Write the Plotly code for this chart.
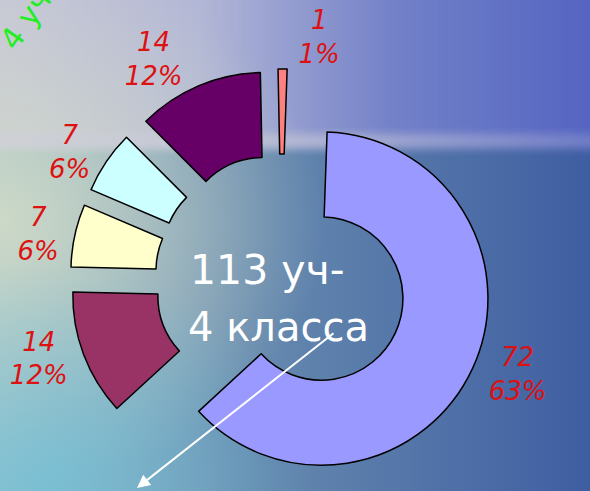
import base64
import plotly.graph_objects as go

# slices, clockwise from 12 o'clock
groups = ["группа 1", "группа 2", "группа 3", "группа 4", "группа 5", "группа 6"]
pupils = [72, 14, 7, 7, 14, 1]
slice_colors = ["#9999FF", "#993366", "#FFFFCC", "#CCFFFF", "#660066", "#FF8080"]

center_line1 = "113 уч-"
center_line2 = "4 класса"
corner_text = "4 уч"

W, H = 590, 491

### background (sky + sea) as an svg picture ###
bg_svg = f"""<svg xmlns='http://www.w3.org/2000/svg' width='{W}' height='{H}' viewBox='0 0 {W} {H}' preserveAspectRatio='none'>
<defs>
<filter id='soft' x='-0.1' y='-0.5' width='1.2' height='2'><feGaussianBlur stdDeviation='4'/></filter>
<linearGradient id='sky' x1='0' y1='0' x2='1' y2='0'>
<stop offset='0' stop-color='#c9c8d8'/><stop offset='0.35' stop-color='#b3b7d6'/>
<stop offset='0.65' stop-color='#7381c8'/><stop offset='1' stop-color='#5060c0'/>
</linearGradient>
<linearGradient id='hz' x1='0' y1='0' x2='1' y2='0'>
<stop offset='0' stop-color='#d0d0da' stop-opacity='0.85'/><stop offset='0.6' stop-color='#c4c6d6' stop-opacity='0.6'/>
<stop offset='1' stop-color='#a8aed4' stop-opacity='0.3'/>
</linearGradient>
<linearGradient id='sea' x1='0' y1='0' x2='1' y2='0'>
<stop offset='0' stop-color='#9cbcc6'/><stop offset='0.45' stop-color='#6488ae'/>
<stop offset='1' stop-color='#3f5ea2'/>
</linearGradient>
<radialGradient id='pale' cx='0' cy='0.45' r='0.55'>
<stop offset='0' stop-color='#d2dcc8' stop-opacity='0.9'/><stop offset='1' stop-color='#d2dcc8' stop-opacity='0'/>
</radialGradient>
<radialGradient id='teal' cx='0.08' cy='0.98' r='0.45'>
<stop offset='0' stop-color='#70c4da' stop-opacity='0.7'/><stop offset='1' stop-color='#70c4da' stop-opacity='0'/>
</radialGradient>
</defs>
<rect x='0' y='0' width='{W}' height='{H}' fill='url(#sea)'/>
<rect x='-30' y='-30' width='{W + 60}' height='178' fill='url(#sky)' filter='url(#soft)'/>
<rect x='0' y='0' width='{W}' height='{H}' fill='url(#pale)'/>
<rect x='0' y='0' width='{W}' height='{H}' fill='url(#teal)'/>
<rect x='-30' y='134' width='{W + 60}' height='14' fill='url(#hz)' filter='url(#soft)'/>
</svg>"""
bg_src = "data:image/svg+xml;base64," + base64.b64encode(bg_svg.encode("utf-8")).decode("ascii")

fig = go.Figure()
fig.add_trace(go.Pie(
    labels=groups, values=pupils,
    sort=False, direction="clockwise", rotation=2,
    hole=0.49, pull=[0.266] * len(pupils),
    marker=dict(colors=slice_colors, line=dict(color="black", width=1.5)),
    texttemplate="%{value}<br>%{percent:.0%}",
    textposition="outside",
    textfont=dict(family="DejaVu Sans", size=26, color="#DD1111", style="italic"),
    domain=dict(x=[0.1186, 0.8339], y=[0.0, 0.8595]),
    showlegend=False,
))

# centre text
fig.add_annotation(text=center_line1, x=188 / W, y=1 - 270 / H, xref="paper", yref="paper",
                   xanchor="left", yanchor="middle", showarrow=False,
                   font=dict(family="DejaVu Sans", size=41, color="white"))
fig.add_annotation(text=center_line2, x=186 / W, y=1 - 327 / H, xref="paper", yref="paper",
                   xanchor="left", yanchor="middle", showarrow=False,
                   font=dict(family="DejaVu Sans", size=40, color="white"))
# white arrow
fig.add_annotation(text="", x=137 / W, y=1 - 488 / H, xref="paper", yref="paper",
                   ax=198, ay=-156, showarrow=True, arrowhead=2, arrowsize=1.3,
                   arrowwidth=2, arrowcolor="white")
# green text, cut off in the corner
fig.add_annotation(text=corner_text, x=26 / W, y=1 - 20 / H, xref="paper", yref="paper",
                   xanchor="center", yanchor="middle", showarrow=False, textangle=-55,
                   font=dict(family="DejaVu Sans", size=30, color="#22EE22"))

fig.update_layout(
    width=W, height=H,
    margin=dict(l=0, r=0, t=0, b=0, autoexpand=False),
    paper_bgcolor="#6a86b4",
    images=[dict(source=bg_src, xref="paper", yref="paper", x=0, y=1, sizex=1, sizey=1,
                 xanchor="left", yanchor="top", sizing="stretch", layer="below")],
)

fig.write_html("out.html", config={"displayModeBar": False},
               post_script="document.body.style.margin='0';")
